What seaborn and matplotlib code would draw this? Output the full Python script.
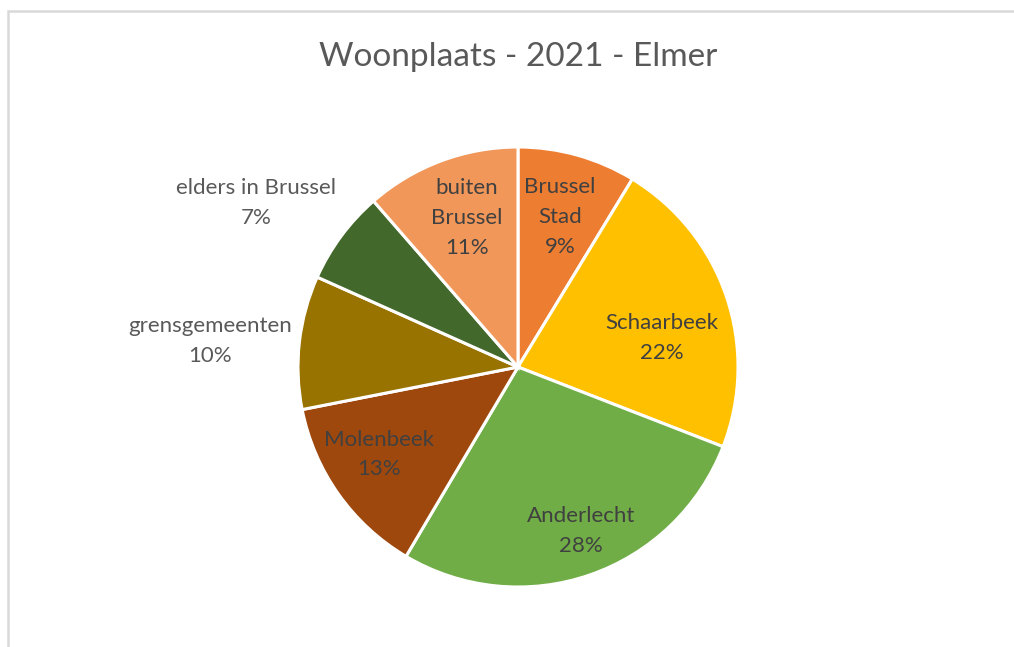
import numpy as np
import matplotlib.pyplot as plt
import matplotlib.patches as mpatches
import seaborn as sns

sns.set_theme(style="white")
plt.rcParams['font.family'] = ['Lato', 'DejaVu Sans']

# data
labels = ["Brussel\nStad", "Schaarbeek", "Anderlecht", "Molenbeek",
          "grensgemeenten", "elders in Brussel", "buiten\nBrussel"]
values = [8.7, 22.2, 27.6, 13.4, 9.8, 6.9, 11.4]
colors = ["#ED7D31", "#FFC000", "#70AD47", "#9E480E",
          "#997300", "#43682B", "#F1975A"]
# label placement per slice, like excel "best fit" (radius fraction, angle shift in deg)
label_r = [0.71, 0.668, 0.80, 0.745, 1.405, 1.405, 0.715]
label_shift = [0, -7.3, 2, -3, 1.7, 4.5, -1.6]
inside = [True, True, True, True, False, False, True]

fig = plt.figure(figsize=(10.14, 6.47), dpi=100)
ax = fig.add_axes([(518 - 220) / 1014, (647 - 367 - 220) / 647, 440 / 1014, 440 / 647])

wedges, _ = ax.pie(values, colors=sns.color_palette(colors), startangle=90,
                   counterclock=False, radius=1,
                   wedgeprops=dict(edgecolor="white", linewidth=2.2))
ax.set_xlim(-1, 1)
ax.set_ylim(-1, 1)
ax.axis("off")

total = sum(values)
for w, lab, v, r, s, ins in zip(wedges, labels, values, label_r, label_shift, inside):
    ang = np.deg2rad((w.theta1 + w.theta2) / 2 + s)
    x, y = r * np.cos(ang), r * np.sin(ang)
    ax.text(x, y, f"{lab}\n{round(v / total * 100)}%", ha="center", va="center",
            fontsize=16, color="#404040" if ins else "#595959",
            linespacing=1.62, clip_on=False)

fig.text(518 / 1014, 1 - 57 / 647, "Woonplaats - 2021 - Elmer", ha="center", va="center",
         fontsize=24, color="#595959")

# chart border (top + left visible)
fig.add_artist(mpatches.Rectangle((8 / 1014, -0.1), 1.2, 1.1 - 11 / 647,
                                  transform=fig.transFigure, fill=False,
                                  edgecolor="#D9D9D9", linewidth=1.8))

fig.savefig("out.png", dpi=100)
